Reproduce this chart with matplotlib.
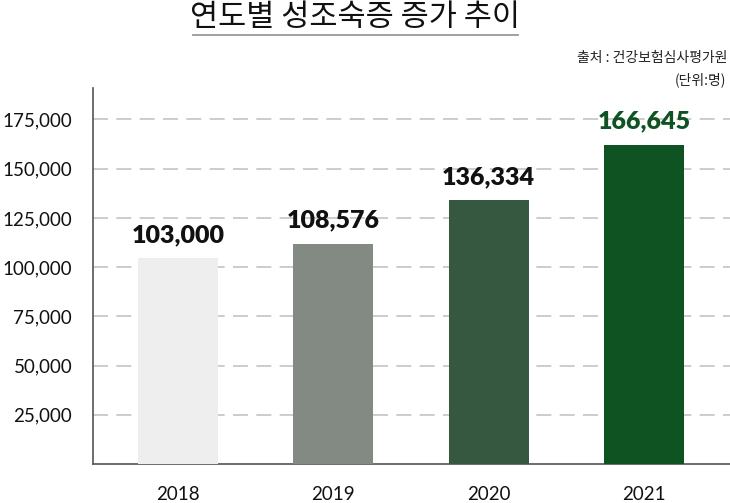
import matplotlib
matplotlib.use("Agg")
import matplotlib.pyplot as plt
from matplotlib.lines import Line2D

# data
years = ["2018", "2019", "2020", "2021"]
bar_heights = [104400, 111900, 133900, 161900]   # drawn bar tops
bar_labels = ["103,000", "108,576", "136,334", "166,645"]
bar_colors = ["#eeeeee", "#838983", "#365740", "#105322"]
label_colors = ["#111111", "#111111", "#111111", "#105322"]
yticks = [25000, 50000, 75000, 100000, 125000, 150000, 175000]

title = "연도별 성조숙증 증가 추이"
source = "출처 : 건강보험심사평가원"
unit = "(단위:명)"

kr = ["Noto Sans CJK KR", "DejaVu Sans"]
num = ["Lato", "DejaVu Sans"]

fig = plt.figure(figsize=(7.3, 5.03), dpi=100)
ax = fig.add_axes([93 / 730, 39 / 503, 637 / 730, 376 / 503])

xs = list(range(len(years)))
ax.bar(xs, bar_heights, width=0.515, color=bar_colors, zorder=3)

for x, h, lab, c in zip(xs, bar_heights, bar_labels, label_colors):
    ax.annotate(lab, (x, h), xytext=(0, 9), textcoords="offset points",
                ha="center", va="bottom", fontsize=18, fontweight="heavy",
                color=c, family=num)

ax.set_xlim(-0.547, 3.554)
ax.set_ylim(0, 191000)
ax.set_xticks(xs)
ax.set_xticklabels(years, family=num, fontsize=13.5, color="#111111")
ax.set_yticks(yticks)
ax.set_yticklabels([f"{v:,}" for v in yticks], family=num, fontsize=13.5, color="#111111")
ax.tick_params(axis="y", length=0, pad=15)
ax.tick_params(axis="x", length=0, pad=16)

ax.grid(axis="y", color="#c4c4c4", linewidth=1.2, linestyle=(0, (9, 5)), zorder=0)
for s in ["top", "right"]:
    ax.spines[s].set_visible(False)
for s in ["left", "bottom"]:
    ax.spines[s].set_color("#555555")
    ax.spines[s].set_linewidth(1.2)

# title with underline
fig.text(355 / 730, 1 - 17 / 503, title, ha="center", va="center",
         fontsize=22, family=kr, color="#111111")
fig.add_artist(Line2D([193 / 730, 518 / 730], [1 - 35 / 503, 1 - 35 / 503],
                      color="#999999", linewidth=1.3, transform=fig.transFigure))

fig.text(727 / 730, 1 - 58 / 503, source, ha="right", va="center",
         fontsize=10, family=kr, color="#222222")
fig.text(726 / 730, 1 - 80 / 503, unit, ha="right", va="center",
         fontsize=10, family=kr, color="#222222")

fig.savefig("out.png", dpi=100)
